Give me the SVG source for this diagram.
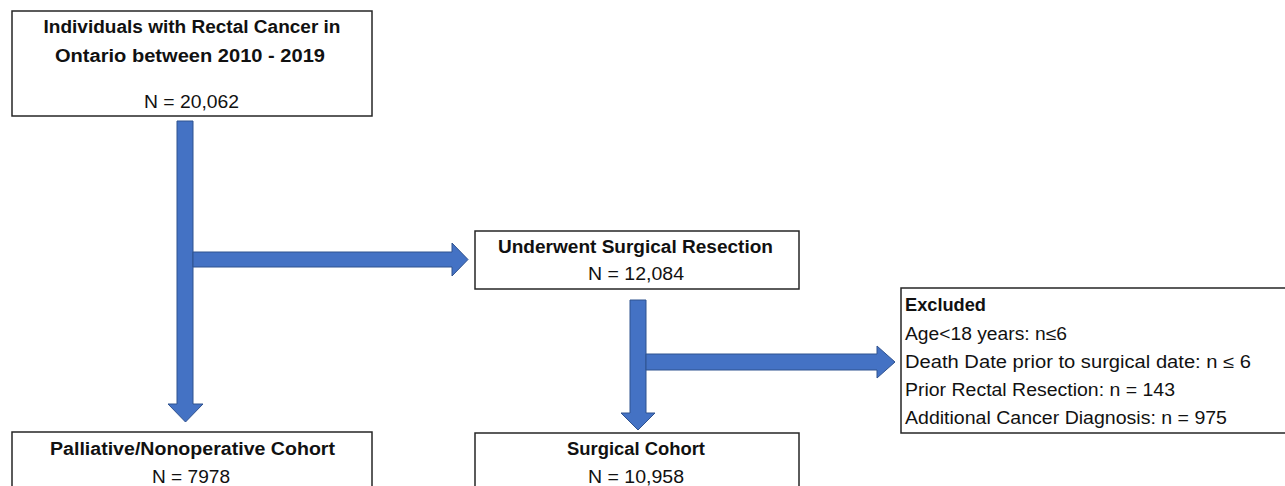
<svg xmlns="http://www.w3.org/2000/svg" width="1285" height="486" viewBox="0 0 1285 486">
<style>
.box{fill:#fff;stroke:#262626;stroke-width:1.5}
.t{font-family:"Liberation Sans",Arial,sans-serif;font-size:17.5px;fill:#111}
.b{font-weight:bold}
.m{text-anchor:middle}
.arr{fill:#4472C4;stroke:#2F528F;stroke-width:1}
</style>
<rect width="1285" height="486" fill="#fff"/>
<g id="connectors">
<polygon class="arr" points="177,121 193,121 193,404 203,404 185.5,422 168,404 177,404"/>
<polygon class="arr" points="193,252 452,252 452,243 468,259.5 452,276 452,267 193,267"/>
<polygon class="arr" points="630,300 646,300 646,413 655,413 638,430 621,413 630,413"/>
<polygon class="arr" points="646,354 877,354 877,346 895,362 877,378 877,370 646,370"/>
</g>
<g id="node-start">
<rect class="box" x="12" y="11" width="360" height="105"/>
<text class="t b m" x="192" y="33" textLength="297" lengthAdjust="spacingAndGlyphs">Individuals with Rectal Cancer in</text>
<text class="t b m" x="190" y="62" textLength="270" lengthAdjust="spacingAndGlyphs">Ontario between 2010 - 2019</text>
<text class="t m" x="191.5" y="108" textLength="95" lengthAdjust="spacingAndGlyphs">N = 20,062</text>
</g>
<g id="node-resection">
<rect class="box" x="475" y="231" width="324" height="58"/>
<text class="t b m" x="635.5" y="253" textLength="275" lengthAdjust="spacingAndGlyphs">Underwent Surgical Resection</text>
<text class="t m" x="636" y="280" textLength="96" lengthAdjust="spacingAndGlyphs">N = 12,084</text>
</g>
<g id="node-excluded">
<rect class="box" x="901" y="288" width="390" height="145"/>
<text class="t b" x="905" y="311" textLength="81" lengthAdjust="spacingAndGlyphs">Excluded</text>
<text class="t" x="905" y="340" textLength="162" lengthAdjust="spacingAndGlyphs">Age&lt;18 years: n≤6</text>
<text class="t" x="905" y="368" textLength="346" lengthAdjust="spacingAndGlyphs">Death Date prior to surgical date: n ≤ 6</text>
<text class="t" x="905" y="396" textLength="270" lengthAdjust="spacingAndGlyphs">Prior Rectal Resection: n = 143</text>
<text class="t" x="905" y="424" textLength="322" lengthAdjust="spacingAndGlyphs">Additional Cancer Diagnosis: n = 975</text>
</g>
<g id="node-palliative">
<rect class="box" x="12" y="432" width="360" height="70"/>
<text class="t b m" x="192.5" y="455" textLength="285" lengthAdjust="spacingAndGlyphs">Palliative/Nonoperative Cohort</text>
<text class="t m" x="191" y="483" textLength="78" lengthAdjust="spacingAndGlyphs">N = 7978</text>
</g>
<g id="node-surgical">
<rect class="box" x="475" y="433" width="324" height="70"/>
<text class="t b m" x="636" y="455" textLength="138" lengthAdjust="spacingAndGlyphs">Surgical Cohort</text>
<text class="t m" x="636" y="483" textLength="96" lengthAdjust="spacingAndGlyphs">N = 10,958</text>
</g>
</svg>
